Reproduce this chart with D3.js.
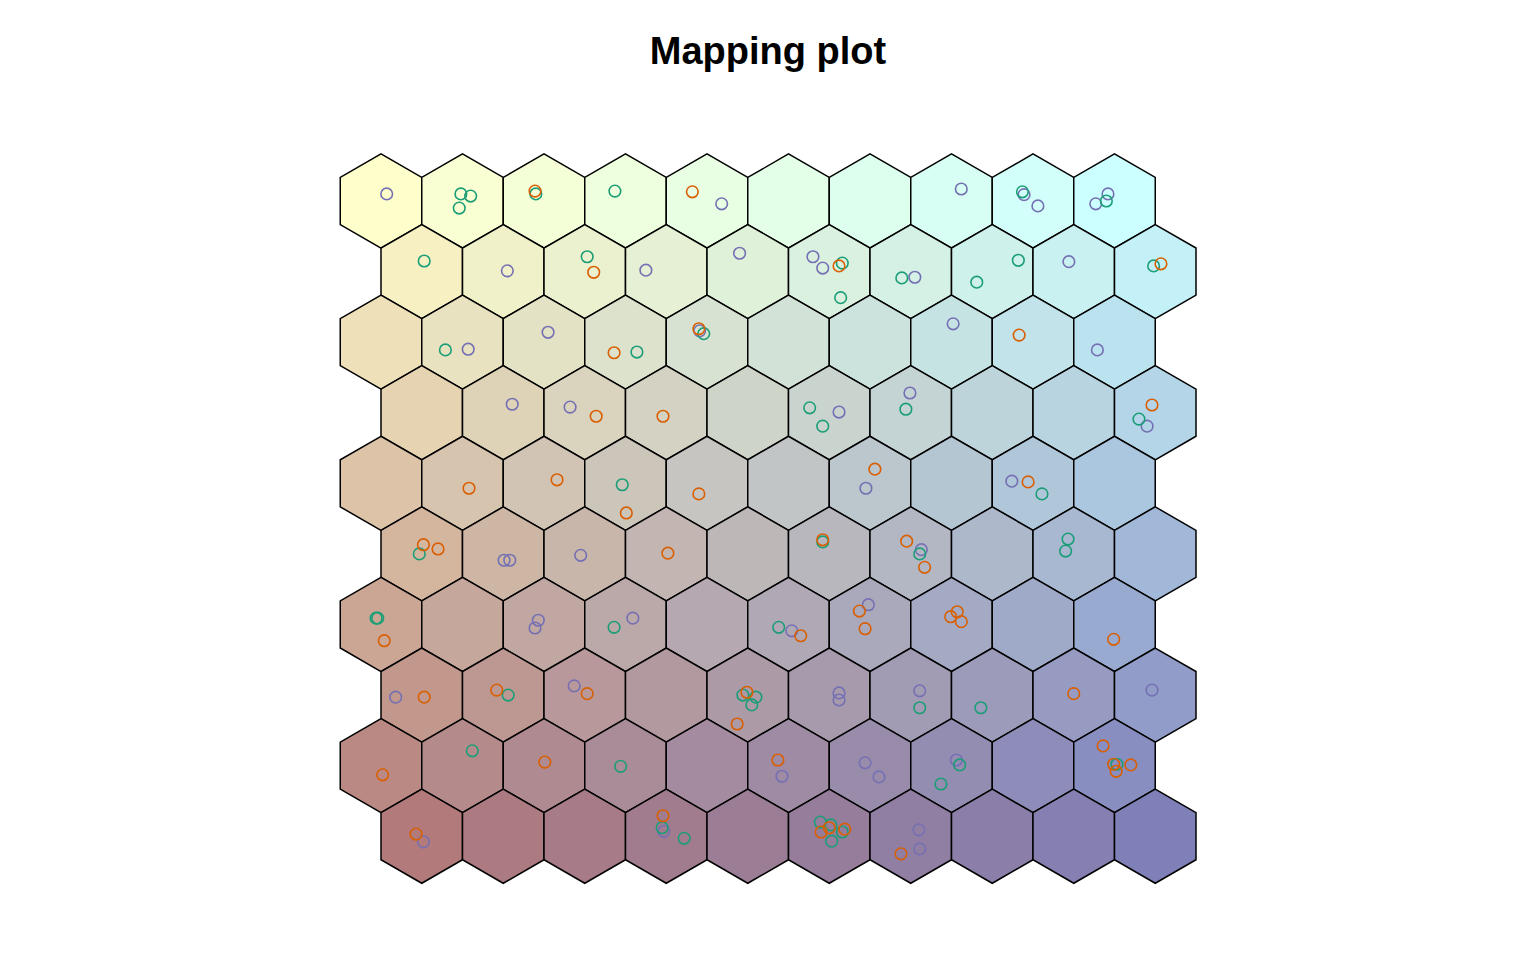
<!DOCTYPE html>
<html>
<head>
<meta charset="utf-8">
<script src="https://cdn.jsdelivr.net/npm/d3@7"></script>
<style>
  html, body { margin: 0; padding: 0; background: #ffffff; }
  svg { display: block; }
</style>
</head>
<body>
<svg id="chart" width="1536" height="960"></svg>
<script>
// ---------------- data ----------------
const title = "Mapping plot";
const xdim = 10;
const ydim = 10;
// corner colours of the map (top-left, top-right, bottom-left, bottom-right)
const cornerColors = ["#FFFFCC", "#CCFFFF", "#B27A7A", "#8080B8"];
const classColors = ["#7570B3", "#1B9E77", "#D95F02"];
// mapped observations in grid units [x, y]; x: columns, y: rows (top = 0)
const purplePts = [
  [0.07,-0.10],[4.18,0.04],[7.12,-0.17],[7.89,-0.09],[8.06,0.07],[8.77,0.04],[8.92,-0.10],
  [1.55,0.99],[3.25,0.98],[4.40,0.74],[5.30,0.79],[5.42,0.95],[6.55,1.08],[8.44,0.86],
  [1.07,2.10],[2.05,1.86],[3.91,1.84],[7.02,1.74],[8.79,2.11],
  [1.61,2.88],[2.32,2.92],[5.62,2.99],[6.49,2.72],[9.40,3.19],
  [5.95,4.07],[7.74,3.97],
  [1.51,5.09],[1.58,5.09],[2.45,5.02],[6.63,4.94],
  [1.93,5.94],[1.89,6.05],[3.09,5.91],[5.04,6.09],[5.98,5.72],
  [0.18,7.03],[2.37,6.87],[5.62,6.97],[5.62,7.07],[6.61,6.94],[9.46,6.93],
  [4.92,8.15],[5.94,7.96],[6.11,8.16],[7.06,7.92],
  [0.52,9.08],[3.47,8.93],[6.60,8.91],[6.61,9.18]
];
const greenPts = [
  [0.98,-0.10],[1.10,-0.07],[0.96,0.10],[1.90,-0.10],[2.87,-0.14],[7.87,-0.13],[8.90,0.00],
  [0.53,0.85],[2.53,0.79],[5.66,0.88],[5.64,1.37],[6.39,1.09],[7.31,1.15],[7.82,0.84],[9.48,0.92],
  [0.79,2.11],[3.14,2.14],[3.96,1.88],
  [5.26,2.93],[5.42,3.19],[6.44,2.95],[9.30,3.09],
  [2.96,4.02],[8.11,4.15],
  [0.47,5.00],[5.42,4.83],[6.61,5.00],[8.43,4.79],[8.40,4.96],
  [-0.06,5.91],[-0.04,5.91],[2.86,6.04],[4.88,6.04],
  [1.56,7.00],[4.44,7.00],[4.60,7.03],[4.55,7.14],[6.61,7.18],[7.36,7.18],
  [1.12,7.79],[2.94,8.01],[7.10,7.99],[6.87,8.26],[9.03,7.98],
  [3.45,8.88],[3.72,9.03],[5.39,8.80],[5.52,8.84],[5.53,9.07],[5.66,8.94]
];
const orangePts = [
  [1.89,-0.14],[3.82,-0.13],
  [2.61,1.01],[5.62,0.92],[9.57,0.89],
  [2.86,2.15],[3.90,1.81],[7.83,1.90],
  [2.64,3.05],[3.46,3.05],[9.46,2.89],
  [1.08,4.07],[2.16,3.95],[3.01,4.42],[3.90,4.15],[6.06,3.80],[7.94,3.98],
  [0.52,4.87],[0.70,4.93],[3.52,4.99],[5.42,4.80],[6.45,4.82],[6.67,5.19],
  [0.04,6.23],[5.15,6.16],[5.87,5.81],[5.94,6.06],[6.99,5.89],[7.07,5.82],[7.12,5.96],[8.99,6.21],
  [0.53,7.03],[1.42,6.93],[2.53,6.98],[4.49,6.96],[4.37,7.41],[8.50,6.98],
  [0.02,8.13],[2.01,7.95],[4.87,7.92],[8.86,7.72],[8.99,7.98],[9.02,8.08],[9.20,7.99],
  [0.43,8.97],[3.46,8.71],[5.50,8.88],[5.40,8.94],[5.69,8.90],[6.38,9.25]
];

// ---------------- drawing ----------------
const svg = d3.select("#chart");

const xScale = d3.scaleLinear().domain([0, 9.5]).range([381, 381 + 9.5 * 81.5]);
const yScale = d3.scaleLinear().domain([0, 9]).range([201, 201 + 9 * 70.58]);

const cells = [];
for (let r = 0; r < ydim; r++) {
  for (let c = 0; c < xdim; c++) {
    cells.push({ row: r, col: c, u: c + (r % 2) * 0.5, v: r });
  }
}

const topInterp = d3.interpolateRgb(cornerColors[0], cornerColors[1]);
const botInterp = d3.interpolateRgb(cornerColors[2], cornerColors[3]);
function cellColor(d) {
  const t = d.col / (xdim - 1), s = d.row / (ydim - 1);
  return d3.interpolateRgb(topInterp(t), botInterp(t))(s);
}

const hexR = (xScale(1) - xScale(0)) / Math.sqrt(3);
function hexPath(cx, cy) {
  const pts = d3.range(6).map(i => {
    const a = Math.PI / 180 * (30 + 60 * i);
    return [cx + hexR * Math.cos(a), cy + hexR * Math.sin(a)];
  });
  return "M" + pts.map(p => p.join(",")).join("L") + "Z";
}

svg.append("g")
  .selectAll("path")
  .data(cells)
  .join("path")
  .attr("d", d => hexPath(xScale(d.u), yScale(d.v)))
  .attr("fill", d => cellColor(d))
  .attr("stroke", "#000")
  .attr("stroke-width", 1.5)
  .attr("stroke-linejoin", "miter");

const groups = [purplePts, greenPts, orangePts];
groups.forEach((pts, i) => {
  svg.append("g")
    .selectAll("circle")
    .data(pts)
    .join("circle")
    .attr("cx", d => xScale(d[0]))
    .attr("cy", d => yScale(d[1]))
    .attr("r", 5.8)
    .attr("fill", "none")
    .attr("stroke", classColors[i])
    .attr("stroke-width", 1.6);
});

svg.append("text")
  .attr("x", 768)
  .attr("y", 64)
  .attr("text-anchor", "middle")
  .attr("font-family", "Liberation Sans, Arial, sans-serif")
  .attr("font-weight", "bold")
  .attr("font-size", 38)
  .attr("fill", "#000")
  .text(title);
</script>
</body>
</html>
